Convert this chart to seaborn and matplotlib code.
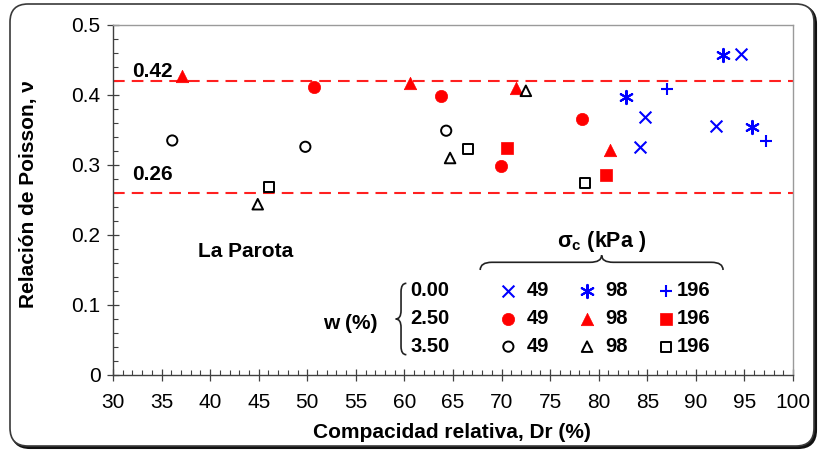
import matplotlib
matplotlib.use("Agg")
import matplotlib.pyplot as plt
import pandas as pd
import seaborn as sns
from matplotlib.path import Path
from matplotlib.patches import PathPatch, FancyBboxPatch
from matplotlib.ticker import MultipleLocator, FuncFormatter
from matplotlib.transforms import IdentityTransform

# ---- data: relative density Dr (%) and Poisson's ratio, by water content w and confining stress ----
# w = 0.00 %
dr_w000_s49 = [84.2, 84.8, 92.1, 94.6]
nu_w000_s49 = [0.326, 0.369, 0.356, 0.459]
dr_w000_s98 = [82.8, 92.8, 95.8]
nu_w000_s98 = [0.397, 0.457, 0.355]
dr_w000_s196 = [87.0, 97.2]
nu_w000_s196 = [0.408, 0.334]
# w = 2.50 %
dr_w250_s49 = [50.7, 63.8, 69.9, 78.3]
nu_w250_s49 = [0.411, 0.399, 0.299, 0.366]
dr_w250_s98 = [37.1, 60.6, 71.5, 81.2]
nu_w250_s98 = [0.427, 0.417, 0.410, 0.322]
dr_w250_s196 = [70.6, 80.8]
nu_w250_s196 = [0.324, 0.286]
# w = 3.50 %
dr_w350_s49 = [36.1, 49.8, 64.3]
nu_w350_s49 = [0.335, 0.326, 0.349]
dr_w350_s98 = [44.9, 64.7, 72.5]
nu_w350_s98 = [0.244, 0.310, 0.406]
dr_w350_s196 = [46.1, 66.5, 78.6]
nu_w350_s196 = [0.269, 0.323, 0.274]

water_contents = ["0.00", "2.50", "3.50"]
stresses = ["49", "98", "196"]
nu_limits = [0.42, 0.26]
x_ticks = list(range(30, 101, 5))
y_ticks = [0, 0.1, 0.2, 0.3, 0.4, 0.5]

series = {
    ("0.00", "49"): (dr_w000_s49, nu_w000_s49),
    ("0.00", "98"): (dr_w000_s98, nu_w000_s98),
    ("0.00", "196"): (dr_w000_s196, nu_w000_s196),
    ("2.50", "49"): (dr_w250_s49, nu_w250_s49),
    ("2.50", "98"): (dr_w250_s98, nu_w250_s98),
    ("2.50", "196"): (dr_w250_s196, nu_w250_s196),
    ("3.50", "49"): (dr_w350_s49, nu_w350_s49),
    ("3.50", "98"): (dr_w350_s98, nu_w350_s98),
    ("3.50", "196"): (dr_w350_s196, nu_w350_s196),
}
rows = []
for (w, s), (xs, ys) in series.items():
    for x, y in zip(xs, ys):
        rows.append({"w": w, "sigma": s, "Dr": x, "nu": y})
df = pd.DataFrame(rows)

BLUE = "#0000FF"
RED = "#FF0000"
BLACK = "#000000"
ASTERISK = (6, 2, 0)

# marker, face, edge, size, linewidth
styles = {
    ("0.00", "49"): ("x", BLUE, BLUE, 72, 1.5),
    ("0.00", "98"): (ASTERISK, BLUE, BLUE, 90, 1.5),
    ("0.00", "196"): ("+", BLUE, BLUE, 85, 1.5),
    ("2.50", "49"): ("o", RED, RED, 78, 0.5),
    ("2.50", "98"): ("^", RED, RED, 80, 0.5),
    ("2.50", "196"): ("s", RED, RED, 70, 0.5),
    ("3.50", "49"): ("o", "none", BLACK, 54, 1.4),
    ("3.50", "98"): ("^", "none", BLACK, 58, 1.4),
    ("3.50", "196"): ("s", "none", BLACK, 52, 1.4),
}

sns.set_theme(style="ticks")
plt.rcParams["font.family"] = ["Liberation Sans", "DejaVu Sans"]
plt.rcParams["mathtext.fontset"] = "custom"
plt.rcParams["mathtext.rm"] = "Liberation Sans"
plt.rcParams["mathtext.bf"] = "Liberation Sans:bold"
plt.rcParams["mathtext.it"] = "Liberation Sans:italic"
plt.rcParams["text.color"] = "black"
plt.rcParams["axes.labelcolor"] = "black"
plt.rcParams["xtick.labelcolor"] = "black"
plt.rcParams["ytick.labelcolor"] = "black"

fig = plt.figure(figsize=(8.18, 4.5), dpi=100)
fig.patch.set_facecolor("white")

# rounded frame with a drop shadow around the whole figure
shadow = FancyBboxPatch((12, 2), 804, 442, boxstyle="round,pad=0,rounding_size=18",
                        transform=IdentityTransform(), facecolor="#111111",
                        edgecolor="#111111", lw=1.5, zorder=-3)
frame = FancyBboxPatch((10, 4), 804, 442, boxstyle="round,pad=0,rounding_size=18",
                       transform=IdentityTransform(), facecolor="white",
                       edgecolor="#3a3a3a", lw=1.2, zorder=-2)
fig.patches.extend([shadow, frame])

ax = fig.add_axes([113 / 818, 1 - 375 / 450, 680 / 818, 350 / 450])
ax.set_facecolor("white")

for key, sub in df.groupby(["w", "sigma"]):
    marker, fc, ec, s, lw = styles[key]
    sns.scatterplot(data=sub, x="Dr", y="nu", ax=ax, marker=marker, s=s,
                    facecolor=fc, edgecolor=ec, linewidth=lw, zorder=4,
                    legend=False)

# reference bounds of Poisson's ratio, labelled at the left
label_y = [0.433, 0.287]
for lim, ly in zip(nu_limits, label_y):
    ax.axhline(lim, color="#FF2020", lw=1.5, dashes=(5.6, 3.4), zorder=2)
    ax.text(34.1, ly, f"{lim:.2f}", fontsize=15, fontweight="bold",
            ha="center", va="center", zorder=5)

ax.set_xlim(30, 100)
ax.set_ylim(0, 0.5)
ax.set_xticks(x_ticks)
ax.set_yticks(y_ticks)
ax.xaxis.set_minor_locator(MultipleLocator(1))
ax.yaxis.set_minor_locator(MultipleLocator(0.02))
ax.yaxis.set_major_formatter(FuncFormatter(lambda v, p: "0" if abs(v) < 1e-9 else f"{v:.1f}"))
ax.tick_params(which="major", direction="inout", length=8, width=0.9,
               color="#404040", labelsize=15, pad=5)
ax.tick_params(axis="x", which="major", pad=9)
ax.tick_params(which="minor", direction="in", length=3.5, width=0.8, color="#404040")
ax.tick_params(top=False, right=False, which="both")
for side in ["left", "bottom"]:
    ax.spines[side].set_color("#404040")
    ax.spines[side].set_linewidth(1.0)
for side in ["top", "right"]:
    ax.spines[side].set_color("#9a9a9a")
    ax.spines[side].set_linewidth(1.0)

ax.set_xlabel("Compacidad relativa, Dr (%)", fontsize=15, fontweight="bold")
ax.set_ylabel("Relación de Poisson, ν", fontsize=15, fontweight="bold")
ax.xaxis.set_label_coords(0.499, -0.138)
ax.yaxis.set_label_coords(-0.11, 0.517)

ax.text(43.7, 0.176, "La Parota", fontsize=15, fontweight="bold",
        ha="center", va="center")

# ---- hand-built legend: rows = water content, columns = confining stress ----
row_y = [0.120, 0.080, 0.0405]
col_marker_x = [70.7, 78.8, 86.9]
col_text_x = [72.6, 80.7, 88.0]
for i, w in enumerate(water_contents):
    ax.text(62.6, row_y[i], w, fontsize=14.5, fontweight="bold",
            ha="center", va="center")
    for j, s in enumerate(stresses):
        marker, fc, ec, size, lw = styles[(w, s)]
        ax.scatter([col_marker_x[j]], [row_y[i]], marker=marker, s=size,
                   facecolor=fc, edgecolor=ec, linewidth=lw, zorder=4, clip_on=False)
        ax.text(col_text_x[j], row_y[i], s, fontsize=14.5, fontweight="bold",
                ha="left", va="center")

ax.text(54.4, 0.074, "w (%)", fontsize=15, fontweight="bold", ha="center", va="center")
ax.text(80.3, 0.190, r"$\mathbf{\sigma_c}$ (kPa )", fontsize=15.5, fontweight="bold",
        ha="center", va="center")


def brace_h(x0, x1, y_end, y_flat, y_tip, d):
    xm = (x0 + x1) / 2
    verts = [(x0, y_end), (x0, y_flat), (x0 + d, y_flat),
             (xm - d, y_flat), (xm, y_flat), (xm, y_tip),
             (xm, y_flat), (xm + d, y_flat),
             (x1 - d, y_flat), (x1, y_flat), (x1, y_end)]
    codes = [Path.MOVETO, Path.CURVE3, Path.CURVE3,
             Path.LINETO, Path.CURVE3, Path.CURVE3,
             Path.CURVE3, Path.CURVE3,
             Path.LINETO, Path.CURVE3, Path.CURVE3]
    return Path(verts, codes)


def brace_v(x_end, x_flat, x_tip, y0, y1, d):
    ym = (y0 + y1) / 2
    verts = [(x_end, y1), (x_flat, y1), (x_flat, y1 - d),
             (x_flat, ym + d), (x_flat, ym), (x_tip, ym),
             (x_flat, ym), (x_flat, ym - d),
             (x_flat, y0 + d), (x_flat, y0), (x_end, y0)]
    codes = [Path.MOVETO, Path.CURVE3, Path.CURVE3,
             Path.LINETO, Path.CURVE3, Path.CURVE3,
             Path.CURVE3, Path.CURVE3,
             Path.LINETO, Path.CURVE3, Path.CURVE3]
    return Path(verts, codes)


ax.add_patch(PathPatch(brace_h(67.8, 92.8, 0.150, 0.161, 0.171, 1.2),
                       facecolor="none", edgecolor="#222222", lw=1.2))
ax.add_patch(PathPatch(brace_v(60.2, 59.65, 59.1, 0.029, 0.131, 0.012),
                       facecolor="none", edgecolor="#222222", lw=1.2))

fig.savefig("out.png", dpi=100, facecolor=fig.get_facecolor())
